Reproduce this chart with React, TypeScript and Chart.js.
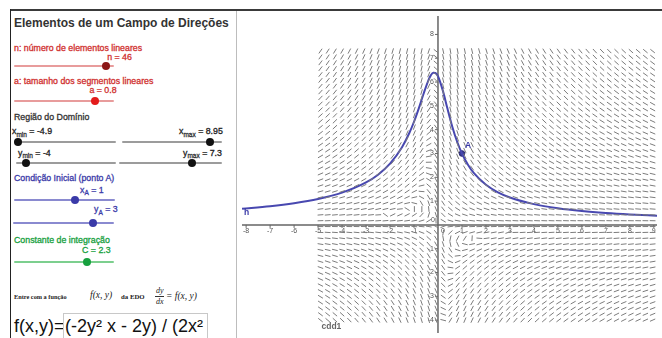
import React, { useEffect, useRef } from "react";
import { Chart, registerables } from "chart.js";

Chart.register(...registerables);

// ---------- data ----------
const X_TICKS = [-8, -7, -6, -5, -4, -3, -2, -1, 1, 2, 3, 4, 5, 6, 7, 8, 9];
const Y_TICKS = [-4, -3, -2, -1, 1, 2, 3, 4, 5, 6, 7, 8];

// solution curve h
const CURVE_X = [-8.17, -7, -6, -5, -4, -3, -2.5, -2, -1.5, -1.2, -1, -0.8, -0.6, -0.4, -0.3, -0.2, -0.1, 0, 0.2, 0.4, 0.6, 0.8, 1, 1.25, 1.5, 2, 2.5, 3, 4, 5, 6, 7, 8, 9.14];
const CURVE_Y = [0.674, 0.785, 0.914, 1.092, 1.356, 1.783, 2.11, 2.573, 3.264, 3.849, 4.333, 4.897, 5.51, 6.075, 6.28, 6.391, 6.383, 6.245, 5.65, 4.863, 4.115, 3.493, 3.0, 2.528, 2.173, 1.684, 1.369, 1.151, 0.872, 0.7, 0.585, 0.502, 0.44, 0.386];

// point A
const POINT_A = { x: 1, y: 3 };

// slider values shown in the panel
const FIELD_N = 46;
const FIELD_A = 0.8;
const FIELD_X_MIN = -4.9;
const FIELD_X_MAX = 8.95;
const FIELD_Y_MIN = -4;
const FIELD_Y_MAX = 7.3;

// the ODE shown in the input box: dy/dx = f(x, y)
const slope = (x: number, y: number) => (-2 * y * y * x - 2 * y) / (2 * x * x * y + 2 * x + y);

// view window
const VIEW_X_MIN = -8.172;
const VIEW_X_MAX = 9.133;
const VIEW_Y_MIN = -4.54;
const VIEW_Y_MAX = 8.774;

// ---------- styles ----------
const SANS = "'Liberation Sans', Arial, sans-serif";
const SERIF = "'Liberation Serif', 'DejaVu Serif', serif";
const RED = "#d0302f";
const DARKRED = "#8c1717";
const BLUE = "#3a3aa8";
const GREEN = "#17a03e";
const CURVE_COLOR = "#4848b0";
const FIELD_COLOR = "#7c7c7c";

type TP = {
  x: number;
  cy: number;
  size: number;
  color?: string;
  bold?: boolean;
  italic?: boolean;
  heavy?: boolean;
  family?: string;
  align?: "left" | "center";
  children: React.ReactNode;
};

function T({ x, cy, size, color = "#222", bold, italic, heavy = true, family = SANS, align = "left", children }: TP) {
  const style: React.CSSProperties = {
    position: "absolute",
    top: cy - size / 2,
    left: x,
    fontSize: size,
    lineHeight: `${size}px`,
    color,
    fontWeight: bold ? "bold" : "normal",
    fontStyle: italic ? "italic" : "normal",
    fontFamily: family,
    whiteSpace: "nowrap",
  };
  if (heavy) (style as any).WebkitTextStroke = `0.3px ${color}`;
  if (align === "center") style.transform = "translateX(-50%)";
  return <div style={style}>{children}</div>;
}

function Slider({ x1, x2, y, tx, line, thumb, r = 4 }: { x1: number; x2: number; y: number; tx: number; line: string; thumb: string; r?: number }) {
  return (
    <>
      <div style={{ position: "absolute", left: x1, top: y - 1, width: x2 - x1, height: 2, background: line, borderRadius: 1 }} />
      <div style={{ position: "absolute", left: tx - r, top: y - r, width: 2 * r, height: 2 * r, borderRadius: "50%", background: thumb }} />
    </>
  );
}

function Sub({ children }: { children: React.ReactNode }) {
  return <span style={{ fontSize: 6.5, position: "relative", top: 2.5, color: "#666" }}>{children}</span>;
}

function Graph() {
  const ref = useRef<HTMLCanvasElement>(null);
  useEffect(() => {
    const canvas = ref.current!;
    const xStep = (FIELD_X_MAX - FIELD_X_MIN) / FIELD_N;
    const yStep = (FIELD_Y_MAX - FIELD_Y_MIN) / FIELD_N;
    const half = (FIELD_A * xStep) / 2;
    const fieldData: { x: number; y: number | null }[] = [];
    for (let i = 0; i <= FIELD_N; i++) {
      for (let j = 0; j <= FIELD_N; j++) {
        const px = FIELD_X_MIN + i * xStep;
        const py = FIELD_Y_MIN + j * yStep;
        const m = slope(px, py);
        if (Number.isNaN(m)) continue;
        let dx = 0;
        let dy = half;
        if (Number.isFinite(m)) {
          const t = Math.atan(m);
          dx = half * Math.cos(t);
          dy = half * Math.sin(t);
        }
        fieldData.push({ x: px - dx, y: py - dy }, { x: px + dx, y: py + dy }, { x: px, y: null });
      }
    }
    const curve = CURVE_X.map((x, i) => ({ x, y: CURVE_Y[i] }));

    const ggb = {
      id: "ggb",
      beforeDatasetsDraw(chart: any) {
        const { ctx, chartArea } = chart;
        const sx = chart.scales.x;
        const sy = chart.scales.y;
        const ox = sx.getPixelForValue(0);
        const oy = sy.getPixelForValue(0);
        ctx.save();
        ctx.strokeStyle = "#666";
        ctx.lineWidth = 1.5;
        ctx.beginPath();
        ctx.moveTo(chartArea.left, oy);
        ctx.lineTo(chartArea.right, oy);
        ctx.moveTo(ox, chartArea.top);
        ctx.lineTo(ox, chartArea.bottom);
        ctx.stroke();
        ctx.lineWidth = 1;
        ctx.beginPath();
        X_TICKS.forEach((v) => {
          const p = sx.getPixelForValue(v);
          ctx.moveTo(p, oy);
          ctx.lineTo(p, oy + 3);
        });
        Y_TICKS.forEach((v) => {
          const p = sy.getPixelForValue(v);
          ctx.moveTo(ox - 3, p);
          ctx.lineTo(ox, p);
        });
        ctx.stroke();
        ctx.fillStyle = "#555";
        ctx.font = "7px " + SANS;
        ctx.textAlign = "center";
        ctx.textBaseline = "middle";
        X_TICKS.forEach((v) => {
          ctx.fillText(String(v), sx.getPixelForValue(v), oy + 6);
        });
        ctx.textAlign = "right";
        Y_TICKS.forEach((v) => {
          ctx.fillText(String(v), ox - 4, sy.getPixelForValue(v));
        });
        ctx.fillText("0", ox - 3, oy - 5);
        ctx.textAlign = "center";
        ctx.fillText("0", ox + 5, oy + 6);
        ctx.restore();
      },
      afterDatasetsDraw(chart: any) {
        const { ctx } = chart;
        const sx = chart.scales.x;
        const sy = chart.scales.y;
        ctx.save();
        ctx.textBaseline = "middle";
        ctx.textAlign = "left";
        ctx.font = "bold 8.5px " + SANS;
        ctx.fillStyle = BLUE;
        ctx.fillText("A", sx.getPixelForValue(POINT_A.x) + 3, sy.getPixelForValue(POINT_A.y) - 8);
        ctx.fillText("h", sx.getPixelForValue(CURVE_X[0]) + 2, sy.getPixelForValue(CURVE_Y[0]) + 4);
        ctx.fillStyle = "#666";
        ctx.font = "bold 8.5px " + SANS;
        ctx.fillText("cdd1", sx.getPixelForValue(FIELD_X_MIN) + 1, sy.getPixelForValue(FIELD_Y_MIN) + 7);
        ctx.restore();
      },
    };

    const chart = new Chart(canvas, {
      type: "scatter",
      data: {
        datasets: [
          {
            data: fieldData as any,
            showLine: true,
            spanGaps: false,
            borderColor: FIELD_COLOR,
            borderWidth: 1,
            pointRadius: 0,
            pointHoverRadius: 0,
            tension: 0,
          },
          {
            data: curve,
            showLine: true,
            borderColor: CURVE_COLOR,
            borderWidth: 2,
            pointRadius: 0,
            pointHoverRadius: 0,
            cubicInterpolationMode: "monotone",
          } as any,
          {
            data: [POINT_A],
            pointRadius: 2.8,
            backgroundColor: "#3a3a90",
            borderColor: "#2a2a70",
            borderWidth: 1,
          },
        ],
      },
      options: {
        responsive: false,
        maintainAspectRatio: false,
        animation: false,
        events: [],
        layout: { padding: 0 },
        plugins: { legend: { display: false }, tooltip: { enabled: false } },
        scales: {
          x: { type: "linear", min: VIEW_X_MIN, max: VIEW_X_MAX, display: false },
          y: { type: "linear", min: VIEW_Y_MIN, max: VIEW_Y_MAX, display: false },
        },
      },
      plugins: [ggb],
    });
    return () => chart.destroy();
  }, []);
  return (
    <canvas
      ref={ref}
      width={425}
      height={327}
      style={{ position: "absolute", left: 237, top: 11, width: 425, height: 327 }}
    />
  );
}

export default function App() {
  return (
    <div style={{ position: "absolute", left: 0, top: 0, width: 662, height: 338, overflow: "hidden", background: "#fff", fontFamily: SANS }}>
      {/* frame */}
      <div style={{ position: "absolute", left: 10, top: 9, width: 652, height: 2, background: "#3a3a3a" }} />
      <div style={{ position: "absolute", left: 10, top: 9, width: 1, height: 329, background: "#222" }} />
      <div style={{ position: "absolute", left: 235.5, top: 11, width: 1.5, height: 327, background: "#bdbdbd" }} />

      {/* left panel */}
      <T x={14} cy={22.5} size={12} bold heavy={false} color="#333">Elementos de um Campo de Direções</T>

      <T x={14} cy={48} size={8.8} color={RED}>n: número de elementos lineares</T>
      <T x={119.5} cy={57.5} size={8.8} color={RED} align="center">n = 46</T>
      <Slider x1={14} x2={114} y={66} tx={106} line="#e89c9c" thumb={DARKRED} />

      <T x={14} cy={81} size={8.8} color={RED}>a: tamanho dos segmentos lineares</T>
      <T x={103} cy={90} size={8.8} color={RED} align="center">a = 0.8</T>
      <Slider x1={14} x2={114} y={101} tx={94.5} line="#e89c9c" thumb="#e31b1b" />

      <T x={14} cy={117} size={8.8} color="#333">Região do Domínio</T>
      <T x={12} cy={131.5} size={8.8} color="#222">x<Sub>min</Sub> = -4.9</T>
      <T x={179} cy={131.5} size={8.8} color="#222">x<Sub>max</Sub> = 8.95</T>
      <Slider x1={14} x2={116} y={142.3} tx={18.3} line="#9c9c9c" thumb="#111" />
      <Slider x1={122} x2={222} y={142.3} tx={210} line="#9c9c9c" thumb="#111" />
      <T x={18} cy={153} size={8.8} color="#222">y<Sub>min</Sub> = -4</T>
      <T x={183} cy={153} size={8.8} color="#222">y<Sub>max</Sub> = 7.3</T>
      <Slider x1={16} x2={116} y={163.3} tx={26} line="#9c9c9c" thumb="#111" />
      <Slider x1={119} x2={222} y={163.3} tx={191.7} line="#9c9c9c" thumb="#111" />

      <T x={14} cy={178.3} size={8.8} color={BLUE}>Condição Inicial (ponto A)</T>
      <T x={80} cy={190} size={8.8} color={BLUE}>x<span style={{ fontSize: 6.5, position: "relative", top: 2.5 }}>A</span> = 1</T>
      <Slider x1={14} x2={115} y={200} tx={75} line="#8a8ad0" thumb={BLUE} />
      <T x={94} cy={209.5} size={8.8} color={BLUE}>y<span style={{ fontSize: 6.5, position: "relative", top: 2.5 }}>A</span> = 3</T>
      <Slider x1={13} x2={114} y={222.7} tx={92.7} line="#8a8ad0" thumb={BLUE} />

      <T x={14} cy={240.7} size={8.8} color={GREEN}>Constante de integração</T>
      <T x={82} cy={250} size={8.8} color={GREEN}>C = 2.3</T>
      <Slider x1={14} x2={114} y={261.7} tx={87} line="#7ccf8e" thumb={GREEN} />

      {/* LaTeX-like line */}
      <T x={14} cy={297} size={6.3} family={SERIF} bold heavy={false} color="#222">Entre com a função</T>
      <T x={90} cy={296} size={9.5} family={SERIF} italic heavy={false} color="#222">f(x, y)</T>
      <T x={121} cy={297} size={6.8} family={SERIF} bold heavy={false} color="#222">da EDO</T>
      <T x={156} cy={291} size={8} family={SERIF} italic heavy={false} color="#222">dy</T>
      <div style={{ position: "absolute", left: 155, top: 296, width: 8.5, height: 0.8, background: "#333" }} />
      <T x={156} cy={302} size={8} family={SERIF} italic heavy={false} color="#222">dx</T>
      <T x={166} cy={297} size={9.5} family={SERIF} italic heavy={false} color="#222">= f(x, y)</T>

      {/* input */}
      <T x={14} cy={326} size={18} heavy={false} color="#111">f(x,y)=</T>
      <div style={{ position: "absolute", left: 63, top: 313, width: 143, height: 30, border: "1px solid #c8c8c8", background: "#fff" }} />
      <T x={65} cy={326} size={18} heavy={false} color="#111">(-2y² x - 2y) / (2x²</T>

      {/* graphics view */}
      <Graph />
    </div>
  );
}
